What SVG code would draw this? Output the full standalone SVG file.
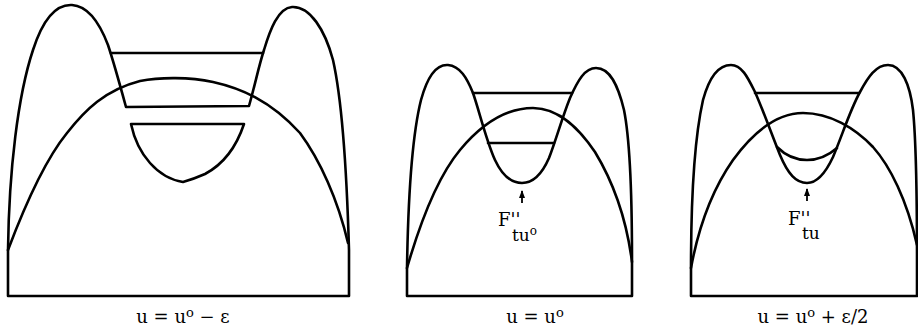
<svg xmlns="http://www.w3.org/2000/svg" width="918" height="332" viewBox="0 0 918 332">
<style>
.c{fill:none;stroke:#000;stroke-width:2.6;stroke-linejoin:round;stroke-linecap:round}
.t{font-family:"DejaVu Serif","Liberation Serif",serif;fill:#000}
.lab{font-size:18px;text-anchor:middle}
.ar{stroke:#000;stroke-width:1.8;fill:none}
</style>
<defs>
<marker id="ah" viewBox="0 0 8 6" refX="7" refY="3" markerWidth="8" markerHeight="6" markerUnits="userSpaceOnUse" orient="auto">
<path d="M0,0 L8,3 L0,6 Z" fill="#000"/>
</marker>
</defs>
<rect width="918" height="332" fill="#fff"/>
<g id="panel1">
<path class="c" d="M8,296 L8,250 C9,170 18,95 33,50 C42,22 55,4 72,5 C88,6 100,24 108,45 C113,60 120,85 126,107 L249,106 C255,85 259,65 264,50 C270,30 278,8 292,7 C310,6 325,30 333,60 C342,100 347,180 349,250 L349,296 Z"/>
<path class="c" d="M111,53 L263,53"/>
<path class="c" d="M8,250 C25,205 45,160 67,133 C85,110 105,90 140,81 C160,77 190,77 213,82 C240,88 270,100 300,133 C320,160 338,200 348,243"/>
<path class="c" d="M131,124 L244,124 C236,148 222,165 205,174 C196,178 190,180 183,182 C170,180 158,172 150,163 C141,153 134,138 131,124 Z"/>
<text class="t lab" x="183" y="323">u = u<tspan font-size="13" dy="-6">o</tspan><tspan dy="6"> − ε</tspan></text>
</g>
<g id="panel2">
<path class="c" d="M407,296 L407,268 C408,205 411,140 421,100 C427,78 435,64 448,65 C460,66 467,78 473,93 C479,110 486,140 495,160 C502,175 510,183 522,183 C534,183 542,174 549,158 C556,140 562,118 570,98 C578,80 585,68 596,68 C610,68 618,85 624,110 C630,140 632,200 632,260 L632,296 Z"/>
<path class="c" d="M473,93 L572,93"/>
<path class="c" d="M488,143 L554,143"/>
<path class="c" d="M407,268 C418,230 435,180 460,150 C480,126 505,108 533,108 C560,108 580,130 595,152 C612,180 626,215 632,262"/>
<line class="ar" x1="522" y1="203" x2="522" y2="191" marker-end="url(#ah)"/>
<text class="t" x="498" y="226" font-size="18">F''<tspan x="512" dy="15" font-size="17">tu</tspan><tspan font-size="12" dy="-6">o</tspan></text>
<text class="t lab" x="535" y="323">u = u<tspan font-size="13" dy="-6">o</tspan></text>
</g>
<g id="panel3">
<path class="c" d="M691,296 L691,268 C691,200 694,140 703,100 C709,78 718,65 731,65 C742,65 748,78 755,92 C763,110 772,135 780,155 C788,174 796,183 807,183 C818,183 826,172 833,157 C842,136 850,110 860,92 C868,77 876,65 888,65 C902,65 910,85 913,110 C916,140 917,200 917,260 L917,296 Z"/>
<path class="c" d="M755,93 L859,93"/>
<path class="c" d="M777,147 C786,156 795,160 807,160 C819,160 829,155 837,148"/>
<path class="c" d="M691,268 C698,230 712,190 733,160 C752,134 775,113 803,113 C830,113 855,128 873,147 C890,166 907,200 917,245"/>
<line class="ar" x1="807" y1="201" x2="807" y2="189" marker-end="url(#ah)"/>
<text class="t" x="788" y="225" font-size="18">F''<tspan x="802" dy="14" font-size="17">tu</tspan></text>
<text class="t lab" x="813" y="323">u = u<tspan font-size="13" dy="-6">o</tspan><tspan dy="6"> + ε/2</tspan></text>
</g>
</svg>
